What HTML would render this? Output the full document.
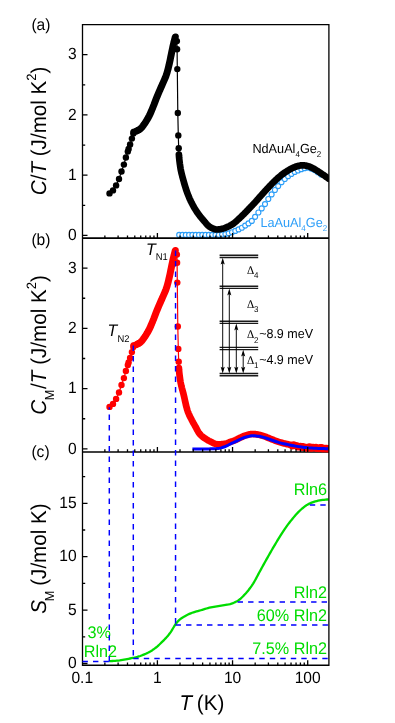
<!DOCTYPE html>
<html><head><meta charset="utf-8"><title>chart</title>
<style>html,body{margin:0;padding:0;background:#fff;}body{width:395px;height:723px;overflow:hidden;position:relative;font-family:"Liberation Sans", sans-serif;}</style></head>
<body>
<svg width="395" height="723" viewBox="0 0 395 723" style="position:absolute;left:0;top:0;will-change:transform;text-rendering:geometricPrecision" font-family='"Liberation Sans", sans-serif'>
<rect width="395" height="723" fill="#fff"/>
<defs>
<clipPath id="ca"><rect x="82.5" y="24.7" width="246.4" height="214.4"/></clipPath>
<clipPath id="cb"><rect x="82.5" y="238.1" width="246.4" height="214.4"/></clipPath>
<clipPath id="cc"><rect x="82.5" y="451.9" width="246.4" height="213.35"/></clipPath>
<marker id="ah" viewBox="0 0 6 8" refX="3" refY="8" markerWidth="6" markerHeight="8" orient="auto"><path d="M3 8 L0.6 0 L3 1.6 L5.4 0 Z" fill="#000"/></marker>
</defs>
<g clip-path="url(#ca)">
<g fill="#fff" stroke="#2c9ef8" stroke-width="1.15"><circle cx="179.2" cy="234.9" r="2.5"/><circle cx="182.5" cy="234.9" r="2.5"/><circle cx="185.8" cy="234.9" r="2.5"/><circle cx="189.1" cy="234.9" r="2.5"/><circle cx="192.4" cy="234.9" r="2.5"/><circle cx="195.7" cy="234.9" r="2.5"/><circle cx="199" cy="234.9" r="2.5"/><circle cx="202.3" cy="234.9" r="2.5"/><circle cx="205.6" cy="234.89" r="2.5"/><circle cx="208.9" cy="234.88" r="2.5"/><circle cx="212.2" cy="234.86" r="2.5"/><circle cx="215.5" cy="234.84" r="2.5"/><circle cx="218.8" cy="234.8" r="2.5"/><circle cx="222.1" cy="234.54" r="2.5"/><circle cx="225.4" cy="234.1" r="2.5"/><circle cx="228.7" cy="233.37" r="2.5"/><circle cx="232" cy="232.27" r="2.5"/><circle cx="235.3" cy="230.89" r="2.5"/><circle cx="238.6" cy="229.39" r="2.5"/><circle cx="241.9" cy="227.75" r="2.5"/><circle cx="245.2" cy="225.55" r="2.5"/><circle cx="248.5" cy="223.42" r="2.5"/><circle cx="251.8" cy="220.89" r="2.5"/><circle cx="255.1" cy="216.87" r="2.5"/><circle cx="258.4" cy="212.52" r="2.5"/><circle cx="261.7" cy="208.4" r="2.5"/><circle cx="265" cy="204.06" r="2.5"/><circle cx="268.3" cy="198.99" r="2.5"/><circle cx="271.6" cy="194.44" r="2.5"/><circle cx="274.9" cy="189.96" r="2.5"/><circle cx="278.2" cy="186.08" r="2.5"/><circle cx="281.5" cy="182.13" r="2.5"/><circle cx="284.8" cy="178.95" r="2.5"/><circle cx="288.1" cy="176.15" r="2.5"/><circle cx="291.4" cy="173.94" r="2.5"/><circle cx="294.7" cy="171.91" r="2.5"/><circle cx="298" cy="170.45" r="2.5"/><circle cx="301.3" cy="169.16" r="2.5"/><circle cx="304.6" cy="168.13" r="2.5"/><circle cx="307.9" cy="167.62" r="2.5"/><circle cx="311.2" cy="168.61" r="2.5"/><circle cx="314.5" cy="170.1" r="2.5"/><circle cx="317.8" cy="172.14" r="2.5"/><circle cx="321.1" cy="174.46" r="2.5"/></g>
<polyline fill="none" stroke="#000" stroke-width="1.2"  points="109.5,193.4 113,190.4 116.1,185.4 119,179 121.5,171.5 123.9,164.6 125.9,157.5 127.8,151.6 128.6,148.9 130.1,144.4 131.9,138.6 133.3,133.4 133.6,131.9 134.37,131.69 135.14,131.45 135.9,131.19 136.65,130.9 137.39,130.6 138.12,130.27 138.83,129.9 139.52,129.49 140.17,129.02 140.77,128.49 141.33,127.92 141.87,127.32 142.37,126.7 142.86,126.06 143.33,125.41 143.79,124.76 144.25,124.1 144.71,123.45 145.16,122.78 145.61,122.12 146.04,121.44 146.46,120.76 146.87,120.07 147.28,119.38 147.67,118.68 148.06,117.98 148.44,117.27 148.81,116.56 149.18,115.85 149.53,115.13 149.88,114.41 150.22,113.68 150.55,112.95 150.87,112.22 151.19,111.48 151.51,110.75 151.82,110.01 152.12,109.27 152.43,108.53 152.74,107.78 153.04,107.04 153.34,106.3 153.64,105.56 153.94,104.81 154.22,104.06 154.51,103.31 154.79,102.56 155.08,101.81 155.36,101.06 155.64,100.31 155.92,99.56 156.21,98.81 156.5,98.07 156.79,97.32 157.09,96.58 157.39,95.83 157.7,95.09 158.01,94.35 158.32,93.61 158.64,92.88 158.95,92.14 159.27,91.41 159.59,90.67 159.92,89.94 160.24,89.2 160.56,88.47 160.88,87.73 161.2,87 161.52,86.26 161.83,85.53 162.15,84.79 162.48,84.06 162.81,83.33 163.14,82.6 163.47,81.87 163.8,81.14 164.13,80.41 164.46,79.67 164.78,78.94 165.09,78.2 165.4,77.46 165.69,76.71 165.97,75.96 166.23,75.2 166.48,74.44 166.72,73.68 166.95,72.91 167.18,72.14 167.4,71.37 167.61,70.6 167.82,69.82 168.02,69.05 168.22,68.27 168.41,67.49 168.6,66.71 168.79,65.93 168.97,65.15 169.16,64.37 169.34,63.59 169.52,62.81 169.69,62.03 169.86,61.24 170.03,60.46 170.19,59.68 170.35,58.89 170.51,58.1 170.67,57.32 170.83,56.53 170.99,55.75 171.15,54.96 171.31,54.18 171.47,53.39 171.64,52.61 171.81,51.82 171.97,51.04 172.14,50.25 172.3,49.47 172.47,48.68 172.63,47.9 172.8,47.12 172.97,46.33 173.14,45.55 173.32,44.77 173.5,43.99 173.69,43.21 173.88,42.43 174.07,41.65 174.27,40.87 174.47,40.1 174.67,39.32 174.88,38.55 175.09,37.77 175.3,37 176.9,41.1 177.1,49.2 177.3,69.1 177.8,113 178.3,135.4 178.7,148.2 178.9,154.5 178.95,155.3 179,156.09 179.07,156.89 179.13,157.69 179.21,158.48 179.29,159.28 179.38,160.07 179.47,160.86 179.56,161.66 179.66,162.45 179.77,163.24 179.87,164.03 179.99,164.82 180.1,165.61 180.22,166.4 180.34,167.19 180.46,167.98 180.59,168.77 180.74,169.55 180.89,170.34 181.05,171.12 181.22,171.9 181.4,172.68 181.58,173.46 181.77,174.23 181.97,175.01 182.17,175.78 182.37,176.55 182.58,177.32 182.79,178.09 183,178.86 183.21,179.63 183.42,180.4 183.64,181.17 183.85,181.94 184.07,182.71 184.29,183.48 184.51,184.25 184.73,185.01 184.96,185.78 185.2,186.54 185.43,187.31 185.67,188.07 185.92,188.83 186.17,189.59 186.42,190.34 186.68,191.1 186.95,191.85 187.22,192.6 187.49,193.35 187.77,194.1 188.06,194.85 188.35,195.59 188.65,196.33 188.96,197.07 189.28,197.8 189.59,198.53 189.92,199.26 190.25,199.99 190.59,200.71 190.94,201.43 191.29,202.15 191.64,202.86 192.01,203.57 192.38,204.28 192.75,204.99 193.13,205.69 193.52,206.39 193.91,207.08 194.31,207.78 194.72,208.46 195.13,209.15 195.55,209.83 195.98,210.5 196.42,211.17 196.86,211.83 197.31,212.49 197.77,213.14 198.24,213.79 198.72,214.43 199.2,215.07 199.68,215.7 200.17,216.33 200.67,216.96 201.17,217.58 201.68,218.2 202.19,218.81 202.7,219.42 203.22,220.03 203.74,220.64 204.27,221.24 204.79,221.84 205.31,222.45 205.83,223.06 206.34,223.67 206.87,224.27 207.41,224.85 207.97,225.42 208.56,225.96 209.18,226.46 209.84,226.91 210.54,227.31 211.24,227.69 211.95,228.06 212.66,228.41 213.4,228.73 214.14,229.01 214.91,229.24 215.69,229.4 216.48,229.49 217.28,229.49 218.08,229.44 218.87,229.35 219.66,229.23 220.45,229.1 221.23,228.95 222.02,228.8 222.8,228.62 223.56,228.39 224.32,228.13 225.06,227.85 225.8,227.55 226.54,227.24 227.28,226.93 228.01,226.6 228.73,226.27 229.45,225.92 230.16,225.55 230.86,225.17 231.55,224.77 232.24,224.36 232.91,223.93 233.56,223.47 234.2,222.99 234.82,222.49 235.43,221.97 236.03,221.45 236.63,220.91 237.22,220.37 237.8,219.83 238.39,219.3 238.99,218.76 239.57,218.22 240.15,217.67 240.73,217.12 241.31,216.56 241.88,216.01 242.45,215.45 243.01,214.88 243.58,214.32 244.14,213.76 244.71,213.19 245.27,212.62 245.83,212.05 246.38,211.48 246.94,210.9 247.49,210.32 248.04,209.75 248.59,209.17 249.14,208.59 249.7,208.01 250.25,207.44 250.8,206.86 251.35,206.28 251.9,205.7 252.45,205.13 253,204.55 253.55,203.96 254.1,203.38 254.64,202.79 255.18,202.21 255.71,201.61 256.24,201.02 256.77,200.42 257.3,199.82 257.83,199.22 258.35,198.62 258.88,198.01 259.4,197.41 259.93,196.81 260.46,196.22 260.99,195.62 261.52,195.02 262.05,194.43 262.59,193.83 263.12,193.23 263.65,192.64 264.18,192.05 264.72,191.45 265.26,190.86 265.8,190.28 266.34,189.69 266.88,189.1 267.43,188.52 267.97,187.94 268.52,187.35 269.07,186.77 269.62,186.2 270.17,185.62 270.73,185.04 271.28,184.46 271.83,183.89 272.38,183.31 272.94,182.74 273.5,182.17 274.07,181.61 274.64,181.05 275.21,180.5 275.79,179.95 276.37,179.4 276.96,178.86 277.55,178.32 278.15,177.78 278.75,177.26 279.35,176.74 279.97,176.23 280.59,175.72 281.21,175.22 281.84,174.73 282.47,174.24 283.11,173.77 283.76,173.3 284.41,172.84 285.07,172.39 285.74,171.95 286.4,171.51 287.08,171.08 287.75,170.65 288.43,170.23 289.12,169.82 289.81,169.42 290.51,169.04 291.21,168.66 291.93,168.31 292.65,167.97 293.38,167.64 294.11,167.32 294.85,167.02 295.59,166.72 296.35,166.46 297.11,166.22 297.88,166.03 298.66,165.86 299.45,165.7 300.23,165.55 301.02,165.42 301.81,165.34 302.61,165.3 303.41,165.32 304.2,165.39 304.99,165.5 305.78,165.64 306.56,165.8 307.35,165.97 308.12,166.16 308.88,166.4 309.63,166.69 310.36,167.01 311.08,167.35 311.8,167.7 312.51,168.06 313.23,168.42 313.93,168.8 314.62,169.19 315.31,169.6 315.99,170.02 316.66,170.45 317.33,170.89 317.99,171.33 318.66,171.77 319.32,172.22 319.99,172.66 320.65,173.1 321.32,173.54 321.98,173.99 322.64,174.43 323.3,174.88 323.96,175.34 324.62,175.79 325.27,176.25 325.92,176.72 326.57,177.18 327.21,177.65 327.86,178.12 328.5,178.6"/>
<polyline fill="none" stroke="#000" stroke-width="7" stroke-linecap="round" stroke-linejoin="round" points="136.65,130.9 137.39,130.6 138.12,130.27 138.83,129.9 139.52,129.49 140.17,129.02 140.77,128.49 141.33,127.92 141.87,127.32 142.37,126.7 142.86,126.06 143.33,125.41 143.79,124.76 144.25,124.1 144.71,123.45 145.16,122.78 145.61,122.12 146.04,121.44 146.46,120.76 146.87,120.07 147.28,119.38 147.67,118.68 148.06,117.98 148.44,117.27 148.81,116.56 149.18,115.85 149.53,115.13 149.88,114.41 150.22,113.68 150.55,112.95 150.87,112.22 151.19,111.48 151.51,110.75 151.82,110.01 152.12,109.27 152.43,108.53 152.74,107.78 153.04,107.04 153.34,106.3 153.64,105.56 153.94,104.81 154.22,104.06 154.51,103.31 154.79,102.56 155.08,101.81 155.36,101.06 155.64,100.31 155.92,99.56 156.21,98.81 156.5,98.07 156.79,97.32 157.09,96.58 157.39,95.83 157.7,95.09 158.01,94.35 158.32,93.61 158.64,92.88 158.95,92.14 159.27,91.41 159.59,90.67 159.92,89.94 160.24,89.2 160.56,88.47 160.88,87.73 161.2,87 161.52,86.26 161.83,85.53 162.15,84.79 162.48,84.06 162.81,83.33 163.14,82.6 163.47,81.87 163.8,81.14 164.13,80.41 164.46,79.67 164.78,78.94 165.09,78.2 165.4,77.46 165.69,76.71 165.97,75.96 166.23,75.2 166.48,74.44 166.72,73.68 166.95,72.91 167.18,72.14 167.4,71.37 167.61,70.6 167.82,69.82 168.02,69.05 168.22,68.27 168.41,67.49 168.6,66.71 168.79,65.93 168.97,65.15 169.16,64.37 169.34,63.59 169.52,62.81 169.69,62.03 169.86,61.24 170.03,60.46 170.19,59.68 170.35,58.89 170.51,58.1 170.67,57.32 170.83,56.53 170.99,55.75 171.15,54.96 171.31,54.18 171.47,53.39 171.64,52.61 171.81,51.82 171.97,51.04 172.14,50.25 172.3,49.47 172.47,48.68 172.63,47.9 172.8,47.12 172.97,46.33 173.14,45.55 173.32,44.77 173.5,43.99 173.69,43.21 173.88,42.43 174.07,41.65 174.27,40.87 174.47,40.1 174.67,39.32 174.88,38.55 175.09,37.77 175.3,37"/>
<polyline fill="none" stroke="#000" stroke-width="6.4" stroke-linecap="round" stroke-linejoin="round" points="133.6,131.9 134.37,131.69 135.14,131.45 135.9,131.19 136.65,130.9 137.39,130.6 138.12,130.27 138.83,129.9"/>
<polyline fill="none" stroke="#000" stroke-width="6.7" stroke-linecap="round" stroke-linejoin="round" points="178.9,154.5 178.95,155.3 179,156.09 179.07,156.89 179.13,157.69 179.21,158.48 179.29,159.28 179.38,160.07 179.47,160.86 179.56,161.66 179.66,162.45 179.77,163.24 179.87,164.03 179.99,164.82 180.1,165.61 180.22,166.4 180.34,167.19 180.46,167.98 180.59,168.77 180.74,169.55 180.89,170.34 181.05,171.12 181.22,171.9 181.4,172.68 181.58,173.46 181.77,174.23 181.97,175.01 182.17,175.78 182.37,176.55 182.58,177.32 182.79,178.09 183,178.86 183.21,179.63 183.42,180.4 183.64,181.17 183.85,181.94 184.07,182.71 184.29,183.48 184.51,184.25 184.73,185.01 184.96,185.78 185.2,186.54 185.43,187.31 185.67,188.07 185.92,188.83 186.17,189.59 186.42,190.34 186.68,191.1 186.95,191.85 187.22,192.6 187.49,193.35 187.77,194.1 188.06,194.85 188.35,195.59 188.65,196.33 188.96,197.07 189.28,197.8 189.59,198.53 189.92,199.26 190.25,199.99 190.59,200.71 190.94,201.43 191.29,202.15 191.64,202.86 192.01,203.57 192.38,204.28 192.75,204.99 193.13,205.69 193.52,206.39 193.91,207.08 194.31,207.78 194.72,208.46 195.13,209.15 195.55,209.83 195.98,210.5 196.42,211.17 196.86,211.83 197.31,212.49 197.77,213.14 198.24,213.79 198.72,214.43 199.2,215.07 199.68,215.7 200.17,216.33 200.67,216.96 201.17,217.58 201.68,218.2 202.19,218.81 202.7,219.42 203.22,220.03 203.74,220.64 204.27,221.24 204.79,221.84 205.31,222.45 205.83,223.06 206.34,223.67 206.87,224.27 207.41,224.85 207.97,225.42 208.56,225.96 209.18,226.46 209.84,226.91 210.54,227.31 211.24,227.69 211.95,228.06 212.66,228.41 213.4,228.73 214.14,229.01 214.91,229.24 215.69,229.4 216.48,229.49 217.28,229.49 218.08,229.44 218.87,229.35 219.66,229.23 220.45,229.1 221.23,228.95 222.02,228.8 222.8,228.62 223.56,228.39 224.32,228.13 225.06,227.85 225.8,227.55 226.54,227.24 227.28,226.93 228.01,226.6 228.73,226.27 229.45,225.92 230.16,225.55 230.86,225.17 231.55,224.77 232.24,224.36 232.91,223.93 233.56,223.47 234.2,222.99 234.82,222.49 235.43,221.97 236.03,221.45 236.63,220.91 237.22,220.37 237.8,219.83 238.39,219.3 238.99,218.76 239.57,218.22 240.15,217.67 240.73,217.12 241.31,216.56 241.88,216.01 242.45,215.45 243.01,214.88 243.58,214.32 244.14,213.76 244.71,213.19 245.27,212.62 245.83,212.05 246.38,211.48 246.94,210.9 247.49,210.32 248.04,209.75 248.59,209.17 249.14,208.59 249.7,208.01 250.25,207.44 250.8,206.86 251.35,206.28 251.9,205.7 252.45,205.13 253,204.55 253.55,203.96 254.1,203.38 254.64,202.79 255.18,202.21 255.71,201.61 256.24,201.02 256.77,200.42 257.3,199.82 257.83,199.22 258.35,198.62 258.88,198.01 259.4,197.41 259.93,196.81 260.46,196.22 260.99,195.62 261.52,195.02 262.05,194.43 262.59,193.83 263.12,193.23 263.65,192.64 264.18,192.05 264.72,191.45 265.26,190.86 265.8,190.28 266.34,189.69 266.88,189.1 267.43,188.52 267.97,187.94 268.52,187.35 269.07,186.77 269.62,186.2 270.17,185.62 270.73,185.04 271.28,184.46 271.83,183.89 272.38,183.31 272.94,182.74 273.5,182.17 274.07,181.61 274.64,181.05 275.21,180.5 275.79,179.95 276.37,179.4 276.96,178.86 277.55,178.32 278.15,177.78 278.75,177.26 279.35,176.74 279.97,176.23 280.59,175.72 281.21,175.22 281.84,174.73 282.47,174.24 283.11,173.77 283.76,173.3 284.41,172.84 285.07,172.39 285.74,171.95 286.4,171.51 287.08,171.08 287.75,170.65 288.43,170.23 289.12,169.82 289.81,169.42 290.51,169.04 291.21,168.66 291.93,168.31 292.65,167.97 293.38,167.64 294.11,167.32 294.85,167.02 295.59,166.72 296.35,166.46 297.11,166.22 297.88,166.03 298.66,165.86 299.45,165.7 300.23,165.55 301.02,165.42 301.81,165.34 302.61,165.3 303.41,165.32 304.2,165.39 304.99,165.5 305.78,165.64 306.56,165.8 307.35,165.97 308.12,166.16 308.88,166.4 309.63,166.69 310.36,167.01 311.08,167.35 311.8,167.7 312.51,168.06 313.23,168.42 313.93,168.8 314.62,169.19 315.31,169.6 315.99,170.02 316.66,170.45 317.33,170.89 317.99,171.33 318.66,171.77 319.32,172.22 319.99,172.66 320.65,173.1 321.32,173.54 321.98,173.99 322.64,174.43 323.3,174.88 323.96,175.34 324.62,175.79 325.27,176.25 325.92,176.72 326.57,177.18 327.21,177.65 327.86,178.12 328.5,178.6"/>
<g fill="#000"><circle cx="109.5" cy="193.4" r="3.2"/><circle cx="113" cy="190.4" r="3.2"/><circle cx="116.1" cy="185.4" r="3.2"/><circle cx="119" cy="179" r="3.2"/><circle cx="121.5" cy="171.5" r="3.2"/><circle cx="123.9" cy="164.6" r="3.2"/><circle cx="125.9" cy="157.5" r="3.2"/><circle cx="127.8" cy="151.6" r="3.2"/><circle cx="128.6" cy="148.9" r="3.2"/><circle cx="130.1" cy="144.4" r="3.2"/><circle cx="131.9" cy="138.6" r="3.2"/><circle cx="133.3" cy="133.4" r="3.2"/><circle cx="176.9" cy="41.1" r="3.2"/><circle cx="177.1" cy="49.2" r="3.2"/><circle cx="177.3" cy="69.1" r="3.2"/><circle cx="177.8" cy="113" r="3.2"/><circle cx="178.3" cy="135.4" r="3.2"/><circle cx="178.7" cy="148.2" r="3.2"/></g>
</g>
<path d="M82.5 451.9H328.9" stroke="#000" stroke-width="1.45"/>
<g clip-path="url(#cb)">
<polyline fill="none" stroke="#f00" stroke-width="1.2"  points="109.5,406.9 113,403.9 116.1,398.9 119,392.5 121.5,385 123.9,378.1 125.9,371 127.8,365.1 128.6,362.4 130.1,357.9 131.9,352.1 133.3,346.9 133.6,345.4 134.37,345.19 135.14,344.95 135.9,344.69 136.65,344.4 137.39,344.1 138.12,343.77 138.83,343.4 139.52,342.99 140.17,342.52 140.77,341.99 141.33,341.42 141.87,340.82 142.37,340.2 142.86,339.56 143.33,338.91 143.79,338.26 144.25,337.6 144.71,336.95 145.16,336.28 145.61,335.62 146.04,334.94 146.46,334.26 146.87,333.57 147.28,332.88 147.67,332.18 148.06,331.48 148.44,330.77 148.81,330.06 149.18,329.35 149.53,328.63 149.88,327.91 150.22,327.18 150.55,326.45 150.87,325.72 151.19,324.98 151.51,324.25 151.82,323.51 152.12,322.77 152.43,322.03 152.74,321.28 153.04,320.54 153.34,319.8 153.64,319.06 153.94,318.31 154.22,317.56 154.51,316.81 154.79,316.06 155.08,315.31 155.36,314.56 155.64,313.81 155.92,313.06 156.21,312.31 156.5,311.57 156.79,310.82 157.09,310.08 157.39,309.33 157.7,308.59 158.01,307.85 158.32,307.11 158.64,306.38 158.95,305.64 159.27,304.91 159.59,304.17 159.92,303.44 160.24,302.7 160.56,301.97 160.88,301.23 161.2,300.5 161.52,299.76 161.83,299.03 162.15,298.29 162.48,297.56 162.81,296.83 163.14,296.1 163.47,295.37 163.8,294.64 164.13,293.91 164.46,293.17 164.78,292.44 165.09,291.7 165.4,290.96 165.69,290.21 165.97,289.46 166.23,288.7 166.48,287.94 166.72,287.18 166.95,286.41 167.18,285.64 167.4,284.87 167.61,284.1 167.82,283.32 168.02,282.55 168.22,281.77 168.41,280.99 168.6,280.21 168.79,279.43 168.97,278.65 169.16,277.87 169.34,277.09 169.52,276.31 169.69,275.53 169.86,274.74 170.03,273.96 170.19,273.18 170.35,272.39 170.51,271.6 170.67,270.82 170.83,270.03 170.99,269.25 171.15,268.46 171.31,267.68 171.47,266.89 171.64,266.11 171.81,265.32 171.97,264.54 172.14,263.75 172.3,262.97 172.47,262.18 172.63,261.4 172.8,260.62 172.97,259.83 173.14,259.05 173.32,258.27 173.5,257.49 173.69,256.71 173.88,255.93 174.07,255.15 174.27,254.37 174.47,253.6 174.67,252.82 174.88,252.05 175.09,251.27 175.3,250.5 176.9,254.6 177.1,262.7 177.3,282.6 177.8,326.5 178.3,348.9 178.7,361.7 178.9,368 178.95,368.8 179,369.6 179.07,370.39 179.14,371.19 179.21,371.99 179.29,372.78 179.38,373.58 179.47,374.38 179.56,375.17 179.66,375.96 179.77,376.76 179.88,377.55 179.99,378.34 180.1,379.13 180.22,379.93 180.34,380.72 180.47,381.51 180.6,382.3 180.75,383.08 180.91,383.87 181.08,384.65 181.26,385.43 181.44,386.21 181.64,386.98 181.83,387.76 182.04,388.53 182.24,389.31 182.45,390.08 182.65,390.85 182.86,391.63 183.07,392.4 183.27,393.17 183.47,393.95 183.66,394.73 183.84,395.5 184.03,396.28 184.2,397.06 184.38,397.84 184.55,398.63 184.72,399.41 184.89,400.19 185.06,400.97 185.24,401.75 185.41,402.53 185.58,403.32 185.76,404.1 185.94,404.87 186.13,405.65 186.32,406.43 186.52,407.2 186.73,407.98 186.95,408.75 187.17,409.52 187.4,410.28 187.65,411.04 187.91,411.8 188.19,412.55 188.49,413.29 188.81,414.03 189.14,414.75 189.48,415.48 189.83,416.2 190.19,416.91 190.55,417.63 190.91,418.34 191.28,419.05 191.64,419.77 192,420.48 192.38,421.19 192.76,421.89 193.14,422.59 193.53,423.29 193.92,423.99 194.32,424.68 194.72,425.38 195.11,426.07 195.51,426.77 195.89,427.47 196.27,428.18 196.64,428.89 197.01,429.6 197.39,430.3 197.77,431 198.17,431.7 198.59,432.38 199.04,433.04 199.51,433.69 200.01,434.31 200.55,434.9 201.13,435.46 201.73,435.98 202.35,436.49 202.99,436.97 203.63,437.44 204.29,437.91 204.95,438.36 205.61,438.81 206.28,439.25 206.95,439.68 207.64,440.09 208.33,440.49 209.04,440.87 209.75,441.23 210.47,441.58 211.19,441.93 211.9,442.29 212.62,442.66 213.33,443.01 214.06,443.35 214.8,443.65 215.55,443.93 216.32,444.15 217.1,444.31 217.9,444.39 218.7,444.4 219.5,444.37 220.3,444.33 221.1,444.27 221.89,444.19 222.69,444.11 223.48,444.01 224.28,443.9 225.07,443.79 225.85,443.63 226.62,443.4 227.37,443.13 228.11,442.83 228.85,442.52 229.59,442.21 230.34,441.92 231.09,441.65 231.84,441.38 232.6,441.12 233.35,440.84 234.1,440.57 234.85,440.28 235.59,439.98 236.32,439.66 237.04,439.31 237.75,438.94 238.46,438.57 239.17,438.2 239.89,437.85 240.62,437.51 241.34,437.17 242.07,436.84 242.79,436.5 243.53,436.18 244.27,435.88 245.02,435.61 245.78,435.36 246.55,435.14 247.32,434.92 248.09,434.7 248.86,434.5 249.64,434.32 250.43,434.17 251.22,434.06 252.02,434 252.82,434.01 253.62,434.05 254.42,434.11 255.21,434.2 256.01,434.3 256.8,434.42 257.59,434.54 258.38,434.66 259.16,434.82 259.94,435 260.72,435.21 261.48,435.43 262.25,435.68 263.01,435.93 263.77,436.18 264.52,436.44 265.28,436.7 266.03,436.97 266.78,437.25 267.52,437.55 268.26,437.86 269,438.17 269.74,438.48 270.47,438.79 271.22,439.09 271.96,439.38 272.71,439.67 273.45,439.96 274.2,440.25 274.95,440.54 275.7,440.82 276.44,441.1 277.2,441.37 277.95,441.64 278.71,441.9 279.47,442.14 280.24,442.37 281.01,442.59 281.78,442.8 282.55,443 283.33,443.2 284.11,443.39 284.88,443.58 285.66,443.76 286.44,443.94 287.22,444.12 288,444.3 288.78,444.48 289.56,444.66 290.34,444.84 291.12,445.01 291.91,445.18 292.69,445.35 293.47,445.52 294.26,445.67 295.04,445.83 295.83,445.97 296.62,446.11 297.41,446.24 298.19,446.38 298.98,446.51 299.77,446.63 300.57,446.75 301.36,446.87 302.15,446.97 302.94,447.08 303.74,447.17 304.53,447.26 305.33,447.34 306.13,447.42 306.92,447.5 307.72,447.57 308.52,447.64 309.31,447.71 310.11,447.77 310.91,447.83 311.71,447.88 312.51,447.93 313.31,447.98 314.1,448.03 314.9,448.07 315.7,448.12 316.5,448.16 317.3,448.19 318.1,448.23 318.9,448.26 319.7,448.29 320.5,448.32 321.3,448.34 322.1,448.36 322.9,448.39 323.7,448.41 324.5,448.43 325.3,448.45 326.1,448.46 326.9,448.48 327.7,448.49 328.5,448.5"/>
<polyline fill="none" stroke="#f00" stroke-width="7" stroke-linecap="round" stroke-linejoin="round" points="136.65,344.4 137.39,344.1 138.12,343.77 138.83,343.4 139.52,342.99 140.17,342.52 140.77,341.99 141.33,341.42 141.87,340.82 142.37,340.2 142.86,339.56 143.33,338.91 143.79,338.26 144.25,337.6 144.71,336.95 145.16,336.28 145.61,335.62 146.04,334.94 146.46,334.26 146.87,333.57 147.28,332.88 147.67,332.18 148.06,331.48 148.44,330.77 148.81,330.06 149.18,329.35 149.53,328.63 149.88,327.91 150.22,327.18 150.55,326.45 150.87,325.72 151.19,324.98 151.51,324.25 151.82,323.51 152.12,322.77 152.43,322.03 152.74,321.28 153.04,320.54 153.34,319.8 153.64,319.06 153.94,318.31 154.22,317.56 154.51,316.81 154.79,316.06 155.08,315.31 155.36,314.56 155.64,313.81 155.92,313.06 156.21,312.31 156.5,311.57 156.79,310.82 157.09,310.08 157.39,309.33 157.7,308.59 158.01,307.85 158.32,307.11 158.64,306.38 158.95,305.64 159.27,304.91 159.59,304.17 159.92,303.44 160.24,302.7 160.56,301.97 160.88,301.23 161.2,300.5 161.52,299.76 161.83,299.03 162.15,298.29 162.48,297.56 162.81,296.83 163.14,296.1 163.47,295.37 163.8,294.64 164.13,293.91 164.46,293.17 164.78,292.44 165.09,291.7 165.4,290.96 165.69,290.21 165.97,289.46 166.23,288.7 166.48,287.94 166.72,287.18 166.95,286.41 167.18,285.64 167.4,284.87 167.61,284.1 167.82,283.32 168.02,282.55 168.22,281.77 168.41,280.99 168.6,280.21 168.79,279.43 168.97,278.65 169.16,277.87 169.34,277.09 169.52,276.31 169.69,275.53 169.86,274.74 170.03,273.96 170.19,273.18 170.35,272.39 170.51,271.6 170.67,270.82 170.83,270.03 170.99,269.25 171.15,268.46 171.31,267.68 171.47,266.89 171.64,266.11 171.81,265.32 171.97,264.54 172.14,263.75 172.3,262.97 172.47,262.18 172.63,261.4 172.8,260.62 172.97,259.83 173.14,259.05 173.32,258.27 173.5,257.49 173.69,256.71 173.88,255.93 174.07,255.15 174.27,254.37 174.47,253.6 174.67,252.82 174.88,252.05 175.09,251.27 175.3,250.5"/>
<polyline fill="none" stroke="#f00" stroke-width="6.4" stroke-linecap="round" stroke-linejoin="round" points="133.6,345.4 134.37,345.19 135.14,344.95 135.9,344.69 136.65,344.4 137.39,344.1 138.12,343.77 138.83,343.4"/>
<polyline fill="none" stroke="#f00" stroke-width="6.7" stroke-linecap="round" stroke-linejoin="round" points="178.9,368 178.95,368.8 179,369.6 179.07,370.39 179.14,371.19 179.21,371.99 179.29,372.78 179.38,373.58 179.47,374.38 179.56,375.17 179.66,375.96 179.77,376.76 179.88,377.55 179.99,378.34 180.1,379.13 180.22,379.93 180.34,380.72 180.47,381.51 180.6,382.3 180.75,383.08 180.91,383.87 181.08,384.65 181.26,385.43 181.44,386.21 181.64,386.98 181.83,387.76 182.04,388.53 182.24,389.31 182.45,390.08 182.65,390.85 182.86,391.63 183.07,392.4 183.27,393.17 183.47,393.95 183.66,394.73 183.84,395.5 184.03,396.28 184.2,397.06 184.38,397.84 184.55,398.63 184.72,399.41 184.89,400.19 185.06,400.97 185.24,401.75 185.41,402.53 185.58,403.32 185.76,404.1 185.94,404.87 186.13,405.65 186.32,406.43 186.52,407.2 186.73,407.98 186.95,408.75 187.17,409.52 187.4,410.28 187.65,411.04 187.91,411.8 188.19,412.55 188.49,413.29 188.81,414.03 189.14,414.75 189.48,415.48 189.83,416.2 190.19,416.91 190.55,417.63 190.91,418.34 191.28,419.05 191.64,419.77 192,420.48 192.38,421.19 192.76,421.89 193.14,422.59 193.53,423.29 193.92,423.99 194.32,424.68 194.72,425.38 195.11,426.07 195.51,426.77 195.89,427.47 196.27,428.18 196.64,428.89 197.01,429.6 197.39,430.3 197.77,431 198.17,431.7 198.59,432.38 199.04,433.04 199.51,433.69 200.01,434.31 200.55,434.9 201.13,435.46 201.73,435.98 202.35,436.49 202.99,436.97 203.63,437.44 204.29,437.91 204.95,438.36 205.61,438.81 206.28,439.25 206.95,439.68 207.64,440.09 208.33,440.49 209.04,440.87 209.75,441.23 210.47,441.58 211.19,441.93 211.9,442.29 212.62,442.66 213.33,443.01 214.06,443.35 214.8,443.65 215.55,443.93 216.32,444.15 217.1,444.31 217.9,444.39 218.7,444.4 219.5,444.37 220.3,444.33 221.1,444.27 221.89,444.19 222.69,444.11 223.48,444.01 224.28,443.9 225.07,443.79 225.85,443.63 226.62,443.4 227.37,443.13 228.11,442.83 228.85,442.52 229.59,442.21 230.34,441.92 231.09,441.65 231.84,441.38 232.6,441.12 233.35,440.84 234.1,440.57 234.85,440.28 235.59,439.98 236.32,439.66 237.04,439.31 237.75,438.94 238.46,438.57 239.17,438.2 239.89,437.85 240.62,437.51 241.34,437.17 242.07,436.84 242.79,436.5 243.53,436.18 244.27,435.88 245.02,435.61 245.78,435.36 246.55,435.14 247.32,434.92 248.09,434.7 248.86,434.5 249.64,434.32 250.43,434.17 251.22,434.06 252.02,434 252.82,434.01 253.62,434.05 254.42,434.11 255.21,434.2 256.01,434.3 256.8,434.42 257.59,434.54 258.38,434.66 259.16,434.82 259.94,435 260.72,435.21 261.48,435.43 262.25,435.68 263.01,435.93 263.77,436.18 264.52,436.44 265.28,436.7 266.03,436.97 266.78,437.25 267.52,437.55 268.26,437.86 269,438.17 269.74,438.48 270.47,438.79 271.22,439.09 271.96,439.38 272.71,439.67 273.45,439.96 274.2,440.25 274.95,440.54 275.7,440.82 276.44,441.1 277.2,441.37 277.95,441.64 278.71,441.9 279.47,442.14 280.24,442.37 281.01,442.59 281.78,442.8 282.55,443 283.33,443.2 284.11,443.39 284.88,443.58 285.66,443.76 286.44,443.94 287.22,444.12 288,444.3 288.78,444.48 289.56,444.66 290.34,444.84 291.12,445.01 291.91,445.18 292.69,445.35 293.47,445.52 294.26,445.67 295.04,445.83 295.83,445.97 296.62,446.11 297.41,446.24 298.19,446.38 298.98,446.51 299.77,446.63 300.57,446.75 301.36,446.87 302.15,446.97 302.94,447.08 303.74,447.17 304.53,447.26 305.33,447.34 306.13,447.42 306.92,447.5 307.72,447.57 308.52,447.64 309.31,447.71 310.11,447.77 310.91,447.83 311.71,447.88 312.51,447.93 313.31,447.98 314.1,448.03 314.9,448.07 315.7,448.12 316.5,448.16 317.3,448.19 318.1,448.23 318.9,448.26 319.7,448.29 320.5,448.32 321.3,448.34 322.1,448.36 322.9,448.39 323.7,448.41 324.5,448.43 325.3,448.45 326.1,448.46 326.9,448.48 327.7,448.49 328.5,448.5"/>
<g fill="#f00"><circle cx="292.18" cy="446.23" r="3.2"/><circle cx="292.67" cy="445.59" r="3.2"/><circle cx="293.16" cy="445.5" r="3.2"/><circle cx="293.65" cy="444.53" r="3.2"/><circle cx="294.14" cy="445.5" r="3.2"/><circle cx="294.63" cy="445.55" r="3.2"/><circle cx="295.12" cy="445.8" r="3.2"/><circle cx="295.62" cy="445.59" r="3.2"/><circle cx="296.11" cy="445.99" r="3.2"/><circle cx="296.6" cy="445.84" r="3.2"/><circle cx="297.09" cy="445.47" r="3.2"/><circle cx="297.59" cy="446.76" r="3.2"/><circle cx="298.08" cy="446.84" r="3.2"/><circle cx="298.57" cy="447.38" r="3.2"/><circle cx="299.07" cy="446.55" r="3.2"/><circle cx="299.56" cy="446.38" r="3.2"/><circle cx="300.06" cy="446.37" r="3.2"/><circle cx="300.55" cy="445.9" r="3.2"/><circle cx="301.05" cy="447.36" r="3.2"/><circle cx="301.54" cy="446.29" r="3.2"/><circle cx="302.04" cy="446.31" r="3.2"/><circle cx="302.53" cy="446.91" r="3.2"/><circle cx="303.03" cy="447.9" r="3.2"/><circle cx="303.53" cy="447.28" r="3.2"/><circle cx="304.03" cy="446.64" r="3.2"/><circle cx="304.52" cy="446.86" r="3.2"/><circle cx="305.02" cy="447.65" r="3.2"/><circle cx="305.52" cy="447.27" r="3.2"/><circle cx="306.02" cy="446.99" r="3.2"/><circle cx="306.51" cy="447.33" r="3.2"/><circle cx="307.01" cy="447.92" r="3.2"/><circle cx="307.51" cy="448.64" r="3.2"/><circle cx="308.01" cy="446.91" r="3.2"/><circle cx="308.51" cy="447.3" r="3.2"/><circle cx="309.01" cy="447.24" r="3.2"/><circle cx="309.5" cy="446.39" r="3.2"/><circle cx="310" cy="447.25" r="3.2"/><circle cx="310.5" cy="447.23" r="3.2"/><circle cx="311" cy="448.45" r="3.2"/><circle cx="311.5" cy="447.79" r="3.2"/><circle cx="312" cy="447.01" r="3.2"/><circle cx="312.5" cy="448.29" r="3.2"/><circle cx="313" cy="447.77" r="3.2"/><circle cx="313.5" cy="447.03" r="3.2"/><circle cx="314" cy="447.69" r="3.2"/><circle cx="314.5" cy="447.73" r="3.2"/><circle cx="315" cy="447.6" r="3.2"/><circle cx="315.5" cy="448.12" r="3.2"/><circle cx="316" cy="446.89" r="3.2"/><circle cx="316.5" cy="448.01" r="3.2"/><circle cx="317" cy="448.74" r="3.2"/><circle cx="317.5" cy="448.67" r="3.2"/><circle cx="318" cy="448.83" r="3.2"/><circle cx="318.5" cy="448.86" r="3.2"/><circle cx="319" cy="449.08" r="3.2"/><circle cx="319.5" cy="447.67" r="3.2"/><circle cx="320" cy="448.77" r="3.2"/><circle cx="320.5" cy="447.29" r="3.2"/><circle cx="321" cy="448" r="3.2"/><circle cx="321.5" cy="447.29" r="3.2"/><circle cx="322" cy="448.94" r="3.2"/><circle cx="322.5" cy="449.11" r="3.2"/><circle cx="323" cy="448.28" r="3.2"/><circle cx="323.5" cy="449.38" r="3.2"/><circle cx="324" cy="448.05" r="3.2"/><circle cx="324.5" cy="448.51" r="3.2"/><circle cx="325" cy="448.53" r="3.2"/><circle cx="325.5" cy="447.87" r="3.2"/><circle cx="326" cy="448.7" r="3.2"/><circle cx="326.5" cy="449.54" r="3.2"/><circle cx="327" cy="447.92" r="3.2"/><circle cx="327.5" cy="448.98" r="3.2"/><circle cx="328" cy="448.41" r="3.2"/><circle cx="328.5" cy="449.47" r="3.2"/></g>
<g fill="#f00"><circle cx="109.5" cy="406.9" r="3.2"/><circle cx="113" cy="403.9" r="3.2"/><circle cx="116.1" cy="398.9" r="3.2"/><circle cx="119" cy="392.5" r="3.2"/><circle cx="121.5" cy="385" r="3.2"/><circle cx="123.9" cy="378.1" r="3.2"/><circle cx="125.9" cy="371" r="3.2"/><circle cx="127.8" cy="365.1" r="3.2"/><circle cx="128.6" cy="362.4" r="3.2"/><circle cx="130.1" cy="357.9" r="3.2"/><circle cx="131.9" cy="352.1" r="3.2"/><circle cx="133.3" cy="346.9" r="3.2"/><circle cx="176.9" cy="254.6" r="3.2"/><circle cx="177.1" cy="262.7" r="3.2"/><circle cx="177.3" cy="282.6" r="3.2"/><circle cx="177.8" cy="326.5" r="3.2"/><circle cx="178.3" cy="348.9" r="3.2"/><circle cx="178.7" cy="361.7" r="3.2"/></g>
<polyline fill="none" stroke="#00f" stroke-width="3" stroke-linecap="butt" stroke-linejoin="round" points="192.4,448.9 193.91,448.9 195.41,448.9 196.92,448.9 198.43,448.9 199.93,448.9 201.44,448.9 202.95,448.9 204.45,448.9 205.96,448.9 207.47,448.89 208.98,448.88 210.48,448.86 211.99,448.84 213.5,448.81 215,448.75 216.5,448.6 217.99,448.4 219.48,448.16 220.96,447.85 222.42,447.49 223.85,447.03 225.26,446.5 226.65,445.91 227.98,445.21 229.3,444.47 230.64,443.79 232.01,443.16 233.39,442.56 234.77,441.96 236.14,441.33 237.49,440.65 238.83,439.96 240.19,439.31 241.56,438.69 242.93,438.07 244.33,437.51 245.77,437.06 247.23,436.7 248.7,436.35 250.18,436.06 251.67,435.86 253.18,435.8 254.68,435.85 256.18,435.97 257.68,436.14 259.18,436.32 260.66,436.59 262.12,436.96 263.57,437.38 265.01,437.8 266.45,438.25 267.88,438.74 269.3,439.25 270.72,439.76 272.14,440.25 273.57,440.73 274.99,441.22 276.42,441.71 277.85,442.17 279.29,442.61 280.75,443 282.21,443.35 283.68,443.68 285.16,444 286.63,444.31 288.11,444.62 289.58,444.94 291.05,445.25 292.53,445.55 294.01,445.84 295.49,446.11 296.98,446.37 298.46,446.62 299.95,446.85 301.44,447.07 302.93,447.27 304.43,447.45 305.93,447.6 307.43,447.75 308.93,447.88 310.43,447.99 311.94,448.1 313.44,448.19 314.95,448.28 316.45,448.35 317.96,448.42 319.46,448.48 320.97,448.53 322.47,448.58 323.98,448.62 325.49,448.65 326.99,448.68 328.5,448.7"/>
</g>
<g clip-path="url(#cc)">
<polyline fill="none" stroke="#00dc00" stroke-width="2.3" stroke-linejoin="round" points="109.2,661.1 110.7,661.07 112.2,661.01 113.7,660.92 115.2,660.81 116.69,660.69 118.19,660.55 119.68,660.37 121.16,660.13 122.64,659.86 124.11,659.58 125.59,659.29 127.06,659.02 128.54,658.76 130.02,658.5 131.5,658.23 132.97,657.94 134.44,657.63 135.9,657.27 137.35,656.88 138.78,656.44 140.21,655.97 141.62,655.46 143.02,654.92 144.41,654.35 145.79,653.75 147.15,653.1 148.48,652.42 149.8,651.7 151.1,650.94 152.37,650.15 153.62,649.31 154.83,648.43 156.01,647.5 157.16,646.53 158.28,645.54 159.39,644.52 160.47,643.48 161.55,642.44 162.62,641.39 163.69,640.32 164.73,639.25 165.77,638.16 166.78,637.05 167.76,635.92 168.72,634.76 169.64,633.58 170.52,632.36 171.33,631.09 172.1,629.81 172.88,628.52 173.67,627.24 174.45,625.96 175.26,624.7 176.13,623.47 177.04,622.28 178.04,621.16 179.12,620.12 180.27,619.15 181.48,618.26 182.73,617.43 184.01,616.64 185.31,615.9 186.64,615.19 187.98,614.53 189.35,613.9 190.73,613.32 192.13,612.78 193.55,612.29 194.99,611.85 196.43,611.44 197.88,611.05 199.33,610.66 200.78,610.26 202.22,609.84 203.66,609.4 205.09,608.95 206.52,608.5 207.96,608.08 209.42,607.71 210.89,607.39 212.36,607.11 213.84,606.85 215.32,606.61 216.8,606.38 218.29,606.14 219.77,605.89 221.25,605.65 222.73,605.42 224.22,605.2 225.7,604.97 227.18,604.71 228.65,604.42 230.12,604.07 231.55,603.64 232.96,603.12 234.34,602.52 235.69,601.86 237.01,601.15 238.29,600.36 239.51,599.49 240.67,598.53 241.78,597.52 242.85,596.47 243.89,595.39 244.92,594.3 245.94,593.19 246.92,592.06 247.88,590.9 248.81,589.73 249.72,588.53 250.6,587.32 251.47,586.09 252.31,584.84 253.13,583.59 253.92,582.31 254.68,581.02 255.42,579.71 256.15,578.39 256.85,577.07 257.55,575.74 258.25,574.41 258.95,573.08 259.66,571.76 260.38,570.44 261.1,569.13 261.83,567.81 262.55,566.5 263.28,565.18 264,563.87 264.73,562.55 265.46,561.24 266.19,559.93 266.92,558.62 267.66,557.31 268.4,556 269.14,554.7 269.88,553.39 270.63,552.09 271.38,550.79 272.13,549.49 272.88,548.19 273.64,546.89 274.4,545.6 275.17,544.31 275.95,543.02 276.72,541.74 277.49,540.45 278.27,539.16 279.05,537.88 279.83,536.6 280.61,535.32 281.41,534.04 282.22,532.78 283.03,531.52 283.86,530.26 284.7,529.02 285.56,527.79 286.43,526.57 287.32,525.35 288.22,524.15 289.13,522.96 290.05,521.77 290.99,520.6 291.94,519.44 292.9,518.28 293.86,517.13 294.83,515.99 295.82,514.85 296.81,513.73 297.83,512.63 298.88,511.55 299.96,510.51 301.07,509.5 302.19,508.5 303.34,507.53 304.51,506.59 305.72,505.7 306.98,504.88 308.29,504.15 309.63,503.48 311,502.87 312.4,502.31 313.82,501.82 315.25,501.39 316.71,501.03 318.18,500.71 319.65,500.43 321.14,500.18 322.62,499.97 324.11,499.79 325.61,499.63 327.1,499.5 328.6,499.4"/>
</g>
<g stroke="#000" stroke-width="1.3" fill="none">
<path d="M82.5 24.7 H328.9 V665.25 H82.5 Z"/>
<path d="M82.5 238.1 H328.9" stroke-width="1.6"/>
<path d="M82.5 235.4h5M82.5 175.15h5M82.5 114.9h5M82.5 54.65h5M82.5 205.28h2.7M82.5 145.03h2.7M82.5 84.78h2.7M82.5 448.9h5M82.5 388.65h5M82.5 328.4h5M82.5 268.15h5M82.5 418.77h2.7M82.5 358.52h2.7M82.5 298.27h2.7M82.5 663.5h5M82.5 610.1h5M82.5 556.7h5M82.5 503.3h5M82.5 636.8h2.7M82.5 583.4h2.7M82.5 530h2.7M82.5 476.6h2.7M104.87 238.1v-2.7M118.11 238.1v-2.7M127.49 238.1v-2.7M134.78 238.1v-2.7M140.73 238.1v-2.7M145.76 238.1v-2.7M150.12 238.1v-2.7M153.96 238.1v-2.7M157.4 238.1v-5M180.02 238.1v-2.7M193.26 238.1v-2.7M202.64 238.1v-2.7M209.93 238.1v-2.7M215.88 238.1v-2.7M220.91 238.1v-2.7M225.27 238.1v-2.7M229.11 238.1v-2.7M232.55 238.1v-5M255.17 238.1v-2.7M268.41 238.1v-2.7M277.79 238.1v-2.7M285.08 238.1v-2.7M291.03 238.1v-2.7M296.06 238.1v-2.7M300.42 238.1v-2.7M304.26 238.1v-2.7M307.7 238.1v-5M104.87 451.9v-2.7M118.11 451.9v-2.7M127.49 451.9v-2.7M134.78 451.9v-2.7M140.73 451.9v-2.7M145.76 451.9v-2.7M150.12 451.9v-2.7M153.96 451.9v-2.7M157.4 451.9v-5M180.02 451.9v-2.7M193.26 451.9v-2.7M202.64 451.9v-2.7M209.93 451.9v-2.7M215.88 451.9v-2.7M220.91 451.9v-2.7M225.27 451.9v-2.7M229.11 451.9v-2.7M232.55 451.9v-5M255.17 451.9v-2.7M268.41 451.9v-2.7M277.79 451.9v-2.7M285.08 451.9v-2.7M291.03 451.9v-2.7M296.06 451.9v-2.7M300.42 451.9v-2.7M304.26 451.9v-2.7M307.7 451.9v-5M104.87 665.25v-2.7M118.11 665.25v-2.7M127.49 665.25v-2.7M134.78 665.25v-2.7M140.73 665.25v-2.7M145.76 665.25v-2.7M150.12 665.25v-2.7M153.96 665.25v-2.7M157.4 665.25v-5M180.02 665.25v-2.7M193.26 665.25v-2.7M202.64 665.25v-2.7M209.93 665.25v-2.7M215.88 665.25v-2.7M220.91 665.25v-2.7M225.27 665.25v-2.7M229.11 665.25v-2.7M232.55 665.25v-5M255.17 665.25v-2.7M268.41 665.25v-2.7M277.79 665.25v-2.7M285.08 665.25v-2.7M291.03 665.25v-2.7M296.06 665.25v-2.7M300.42 665.25v-2.7M304.26 665.25v-2.7M307.7 665.25v-5"/>
</g>
<g stroke="#1a1a1a" stroke-width="1.4" fill="none">
<path d="M219.6 255.3H258.2M219.6 257.5H258.2"/>
<path d="M219.6 286.2H258.2M219.6 288.4H258.2"/>
<path d="M219.6 321.2H258.2M219.6 323.4H258.2"/>
<path d="M219.6 347.4H258.2M219.6 349.6H258.2"/>
<path d="M219.6 373.5H258.2M219.6 375.7H258.2"/>
</g>
<path d="M222.7 260.7V370.6M229.3 291.6V370.6M236.3 326.6V370.6M243.2 352.8V370.6" stroke="#000" stroke-width="0.95" fill="none"/>
<path d="M222.7 257.7l-2.05 6.8l2.05 -1.3l2.05 1.3ZM222.7 373.6l-2.05 -6.8l2.05 1.3l2.05 -1.3ZM229.3 288.6l-2.05 6.8l2.05 -1.3l2.05 1.3ZM229.3 373.6l-2.05 -6.8l2.05 1.3l2.05 -1.3ZM236.3 323.6l-2.05 6.8l2.05 -1.3l2.05 1.3ZM236.3 373.6l-2.05 -6.8l2.05 1.3l2.05 -1.3ZM243.2 349.8l-2.05 6.8l2.05 -1.3l2.05 1.3ZM243.2 373.6l-2.05 -6.8l2.05 1.3l2.05 -1.3Z" fill="#000"/>
<text transform="translate(76.7 240.15) scale(1 1.04)" font-size="15.6" text-anchor="end" fill="#000" >0</text>
<text transform="translate(76.7 179.9) scale(1 1.04)" font-size="15.6" text-anchor="end" fill="#000" >1</text>
<text transform="translate(76.7 119.65) scale(1 1.04)" font-size="15.6" text-anchor="end" fill="#000" >2</text>
<text transform="translate(76.7 59.4) scale(1 1.04)" font-size="15.6" text-anchor="end" fill="#000" >3</text>
<text transform="translate(76.7 453.65) scale(1 1.04)" font-size="15.6" text-anchor="end" fill="#000" >0</text>
<text transform="translate(76.7 393.4) scale(1 1.04)" font-size="15.6" text-anchor="end" fill="#000" >1</text>
<text transform="translate(76.7 333.15) scale(1 1.04)" font-size="15.6" text-anchor="end" fill="#000" >2</text>
<text transform="translate(76.7 272.9) scale(1 1.04)" font-size="15.6" text-anchor="end" fill="#000" >3</text>
<text transform="translate(76.7 668.25) scale(1 1.04)" font-size="15.6" text-anchor="end" fill="#000" >0</text>
<text transform="translate(76.7 614.85) scale(1 1.04)" font-size="15.6" text-anchor="end" fill="#000" >5</text>
<text transform="translate(76.7 561.45) scale(1 1.04)" font-size="15.6" text-anchor="end" fill="#000" >10</text>
<text transform="translate(76.7 508.05) scale(1 1.04)" font-size="15.6" text-anchor="end" fill="#000" >15</text>
<text transform="translate(82.25 683.2) scale(1 1.04)" font-size="15.6" text-anchor="middle" fill="#000" >0.1</text>
<text transform="translate(157.4 683.2) scale(1 1.04)" font-size="15.6" text-anchor="middle" fill="#000" >1</text>
<text transform="translate(232.55 683.2) scale(1 1.04)" font-size="15.6" text-anchor="middle" fill="#000" >10</text>
<text transform="translate(307.7 683.2) scale(1 1.04)" font-size="15.6" text-anchor="middle" fill="#000" >100</text>
<text transform="translate(31.4 30.2) scale(1 1.04)" font-size="15.6" text-anchor="start" fill="#000" >(a)</text>
<text transform="translate(31.4 244.6) scale(1 1.04)" font-size="15.6" text-anchor="start" fill="#000" >(b)</text>
<text transform="translate(31.4 457.4) scale(1 1.04)" font-size="15.6" text-anchor="start" fill="#000" >(c)</text>
<text transform="translate(45.9 130.9) rotate(-90) scale(1 1.04)" font-size="20.6" text-anchor="middle"><tspan font-style="italic">C</tspan>/<tspan font-style="italic">T</tspan> (J/mol K<tspan font-size="13" dy="-9.4">2</tspan><tspan dy="9.4">)</tspan></text>
<text transform="translate(45.9 345) rotate(-90) scale(1 1.04)" font-size="20.6" text-anchor="middle"><tspan font-style="italic">C</tspan><tspan font-size="12.6" dy="7.5" dx="-0.3">M</tspan><tspan dy="-7.5" dx="0.8">/</tspan><tspan font-style="italic">T</tspan> (J/mol K<tspan font-size="13" dy="-9.4">2</tspan><tspan dy="9.4">)</tspan></text>
<text transform="translate(45.9 558.6) rotate(-90) scale(1 1.04)" font-size="20.6" text-anchor="middle"><tspan font-style="italic">S</tspan><tspan font-size="12.6" dy="7.5" dx="-1.2">M</tspan><tspan dy="-7.5" dx="-0.7"> (J/mol K)</tspan></text>
<text transform="translate(201.9 710.1) scale(1 1.04)" font-size="20.6" text-anchor="middle" fill="#000" ><tspan font-style="italic">T</tspan><tspan dx="-1"> (K)</tspan></text>
<text transform="translate(252.4 152.8) scale(1 1.04)" font-size="12.7" text-anchor="start" fill="#000" >NdAuAl<tspan font-size="8.0" dy="4.2">4</tspan><tspan dy="-4.2">Ge</tspan><tspan font-size="8.0" dy="4.2">2</tspan></text>
<text transform="translate(260.4 226.9) scale(1 1.04)" font-size="12.7" text-anchor="start" fill="#2c9ef8" >LaAuAl<tspan font-size="8.0" dy="4.2">4</tspan><tspan dy="-4.2">Ge</tspan><tspan font-size="8.0" dy="4.2">2</tspan></text>
<text transform="translate(146 254.8) scale(1 1.04)" font-size="16" text-anchor="start" fill="#000" ><tspan font-style="italic">T</tspan><tspan font-size="9.4" dy="5.4">N1</tspan></text>
<text transform="translate(107.6 336.3) scale(1 1.04)" font-size="16" text-anchor="start" fill="#000" ><tspan font-style="italic">T</tspan><tspan font-size="9.4" dy="5.4">N2</tspan></text>
<text transform="translate(246.9 273.9) scale(1 1.04)" font-size="12.5" text-anchor="start" fill="#000" ><tspan font-family='"Liberation Serif", serif' font-size="11.2">&#916;</tspan><tspan font-size="8" dy="4.2">4</tspan><tspan dy="-4.2" dx="0.6"></tspan></text>
<text transform="translate(246.9 308) scale(1 1.04)" font-size="12.5" text-anchor="start" fill="#000" ><tspan font-family='"Liberation Serif", serif' font-size="11.2">&#916;</tspan><tspan font-size="8" dy="4.2">3</tspan><tspan dy="-4.2" dx="0.6"></tspan></text>
<text transform="translate(246.9 338.3) scale(1 1.04)" font-size="12.5" text-anchor="start" fill="#000" ><tspan font-family='"Liberation Serif", serif' font-size="11.2">&#916;</tspan><tspan font-size="8" dy="4.2">2</tspan><tspan dy="-4.2" dx="0.6">~8.9 meV</tspan></text>
<text transform="translate(246.9 364.1) scale(1 1.04)" font-size="12.5" text-anchor="start" fill="#000" ><tspan font-family='"Liberation Serif", serif' font-size="11.2">&#916;</tspan><tspan font-size="8" dy="4.2">1</tspan><tspan dy="-4.2" dx="0.6">~4.9 meV</tspan></text>
<text transform="translate(87.6 638.2) scale(1 1.04)" font-size="16.2" text-anchor="start" fill="#00dc00" >3%</text>
<text transform="translate(83.8 657.3) scale(1 1.04)" font-size="16.2" text-anchor="start" fill="#00dc00" >Rln2</text>
<text transform="translate(327 494.8) scale(1 1.04)" font-size="16.2" text-anchor="end" fill="#00dc00" >Rln6</text>
<text transform="translate(327 598.3) scale(1 1.04)" font-size="16.2" text-anchor="end" fill="#00dc00" >Rln2</text>
<text transform="translate(327 621.4) scale(1 1.04)" font-size="16.2" text-anchor="end" fill="#00dc00" >60% Rln2</text>
<text transform="translate(327 654.3) scale(1 1.04)" font-size="16.2" text-anchor="end" fill="#00dc00" >7.5% Rln2</text>
<g stroke="#00f" stroke-width="1.45" stroke-dasharray="5.4 5.1" fill="none">
<path d="M109.3 661.4 V407.2"/>
<path d="M133.3 345.6 V658.4"/>
<path d="M175.55 250.6 V624.9"/>
<path d="M82.5 661.4 H109.3"/>
<path d="M133.3 658.4 H328.4"/>
<path d="M175.55 624.9 H328.4"/>
<path d="M237.6 601.9 H328.4"/>
<path d="M309.8 505 H328.4"/>
</g>
</svg>
</body></html>
